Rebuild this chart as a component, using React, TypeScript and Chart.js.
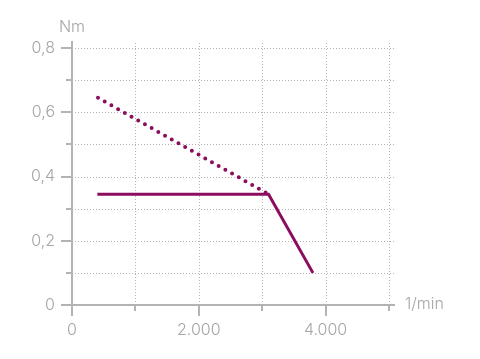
import React, { useEffect, useRef } from "react";
import { Chart, registerables } from "chart.js";

Chart.register(...registerables);

const dottedRpm = [410, 3100];
const dottedTorque = [0.645, 0.345];
const solidRpm = [400, 3100, 3800];
const solidTorque = [0.345, 0.345, 0.1];

const xGridValues = [0, 1000, 2000, 3000, 4000, 5000];
const yGridValues = [0, 0.1, 0.2, 0.3, 0.4, 0.5, 0.6, 0.7, 0.8];
const xLabelled = [0, 2000, 4000];
const yLabelled = [0, 0.2, 0.4, 0.6, 0.8];
const yUnit = "Nm";
const xUnit = "1/min";

const PURPLE = "#8c0c60";
const GREY = "#b3b3b3";
const TEXT = "#a6a6a6";
const FONT = "Inter";
const WEIGHT = 300;

const near = (a: number, b: number) => Math.abs(a - b) < 1e-6;

const axisPlugin = {
  id: "axisPlugin",
  beforeDatasetsDraw(chart: any) {
    const ctx = chart.ctx;
    const xs = chart.scales.x;
    const ys = chart.scales.y;
    const x0 = xs.getPixelForValue(0);
    const y0 = ys.getPixelForValue(0);
    const xTop = ys.getPixelForValue(0.8) - 7;
    const xRight = xs.getPixelForValue(5000) + 6;
    ctx.save();
    // grid
    ctx.strokeStyle = GREY;
    ctx.lineWidth = 1;
    ctx.setLineDash([1, 2]);
    xGridValues.forEach((v) => {
      if (v === 0) return;
      const px = Math.round(xs.getPixelForValue(v)) + 0.5;
      ctx.beginPath();
      ctx.moveTo(px, y0);
      ctx.lineTo(px, xTop);
      ctx.stroke();
    });
    yGridValues.forEach((v) => {
      if (v === 0) return;
      const py = Math.round(ys.getPixelForValue(v)) + 0.5;
      ctx.beginPath();
      ctx.moveTo(x0, py);
      ctx.lineTo(xRight, py);
      ctx.stroke();
    });
    ctx.setLineDash([]);
    ctx.lineWidth = 2;
    // axes
    ctx.beginPath();
    ctx.moveTo(x0, xTop);
    ctx.lineTo(x0, y0 + 11);
    ctx.moveTo(x0 - 11, y0);
    ctx.lineTo(xRight, y0);
    ctx.stroke();
    // tick marks
    xGridValues.forEach((v) => {
      const px = Math.round(xs.getPixelForValue(v));
      const len = xLabelled.some((l) => near(l, v)) ? 11 : 6;
      ctx.beginPath();
      ctx.moveTo(px, y0);
      ctx.lineTo(px, y0 + len);
      ctx.stroke();
    });
    yGridValues.forEach((v) => {
      const py = Math.round(ys.getPixelForValue(v));
      const len = yLabelled.some((l) => near(l, v)) ? 11 : 6;
      ctx.beginPath();
      ctx.moveTo(x0, py);
      ctx.lineTo(x0 - len, py);
      ctx.stroke();
    });
    // units
    ctx.fillStyle = TEXT;
    ctx.font = `${WEIGHT} 16px ${FONT}`;
    ctx.textBaseline = "middle";
    ctx.textAlign = "center";
    ctx.fillText(yUnit, x0, xTop - 14);
    ctx.textAlign = "left";
    ctx.fillText(xUnit, xRight + 10, y0 - 1);
    ctx.restore();
  },
};

export default function App() {
  const ref = useRef<HTMLCanvasElement>(null);
  useEffect(() => {
    if (!ref.current) return;
    const chart = new Chart(ref.current, {
      type: "line",
      data: {
        datasets: [
          {
            data: dottedRpm.map((x, i) => ({ x, y: dottedTorque[i] })),
            borderColor: PURPLE,
            borderWidth: 4,
            borderDash: [0, 7.7],
            borderCapStyle: "round",
            pointRadius: 0,
            fill: false,
          },
          {
            data: solidRpm.map((x, i) => ({ x, y: solidTorque[i] })),
            borderColor: PURPLE,
            borderWidth: 3,
            borderJoinStyle: "miter",
            pointRadius: 0,
            fill: false,
          },
        ],
      },
      options: {
        responsive: false,
        animation: false,
        layout: { padding: { top: 48, right: 91, left: 0, bottom: 0 } },
        plugins: { legend: { display: false }, tooltip: { enabled: false } },
        scales: {
          x: {
            type: "linear",
            min: 0,
            max: 5000,
            afterFit: (s: any) => {
              s.height = 54;
            },
            grid: { display: false, drawTicks: false },
            border: { display: false },
            ticks: {
              stepSize: 1000,
              padding: 16,
              color: TEXT,
              font: { family: FONT, size: 16, weight: WEIGHT },
              maxRotation: 0,
              autoSkip: false,
              callback: (v: any) =>
                xLabelled.some((l) => near(l, Number(v)))
                  ? Number(v) === 0
                    ? "0"
                    : Number(v).toLocaleString("de-DE")
                  : "",
            },
          },
          y: {
            type: "linear",
            min: 0,
            max: 0.8,
            afterFit: (s: any) => {
              s.width = 72;
            },
            grid: { display: false, drawTicks: false },
            border: { display: false },
            ticks: {
              stepSize: 0.1,
              padding: 17,
              color: TEXT,
              font: { family: FONT, size: 16, weight: WEIGHT },
              autoSkip: false,
              callback: (v: any) =>
                yLabelled.some((l) => near(l, Number(v)))
                  ? Number(v) === 0
                    ? "0"
                    : Number(v).toFixed(1).replace(".", ",")
                  : "",
            },
          },
        },
      },
      plugins: [axisPlugin],
    } as any);
    return () => chart.destroy();
  }, []);
  return (
    <div style={{ position: "absolute", left: 0, top: 0, width: 480, height: 359, background: "#fff" }}>
      <canvas ref={ref} width={480} height={359} style={{ width: 480, height: 359 }} />
    </div>
  );
}
